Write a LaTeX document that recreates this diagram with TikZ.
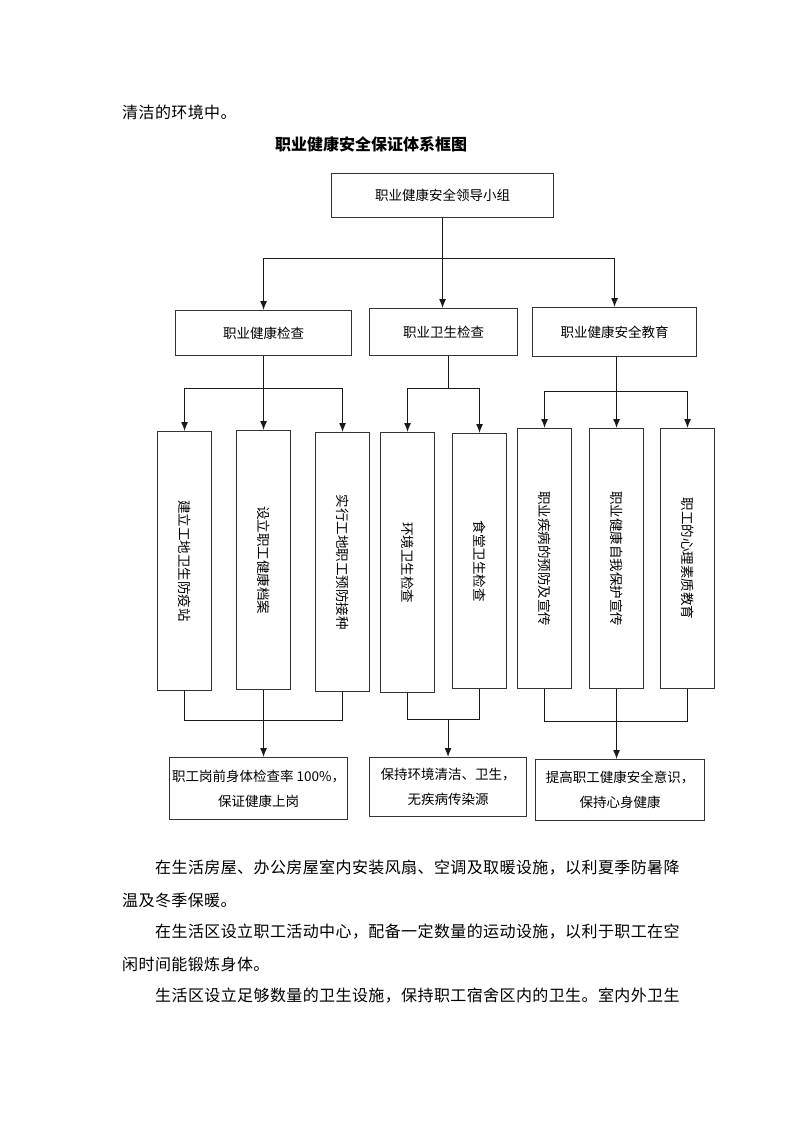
\documentclass[tikz,border=0pt]{standalone}
\usepackage{fontspec}
\setmainfont{Noto Sans CJK SC}
\newfontfamily\bodyfont[LetterSpace=2.5]{Noto Sans CJK SC}
\usetikzlibrary{arrows.meta}

\tikzset{
  box/.style={draw=black!80, line width=1.1pt, inner sep=0pt, anchor=north west,
    align=center, font=\fontsize{13.5}{25}\selectfont},
  tallbox/.style={box, minimum width=54pt},
  link/.style={line width=1pt, black!90},
  body/.style={anchor=west, inner sep=0pt, font=\bodyfont\fontsize{16}{16}\selectfont},
  >={Latex[length=9pt,width=7pt]}
}

\begin{document}
\begin{tikzpicture}[x=1pt,y=-1pt]
  \useasboundingbox (0,0) rectangle (800,1132);

  \node[body] (intro) at (122,112) {清洁的环境中。};
  \node[font=\fontsize{16}{16}\selectfont\bfseries] (title) at (371,144) {职业健康安全保证体系框图};

  \node[box, minimum width=222pt, minimum height=44pt] (lead) at (331,173) {职业健康安全领导小组};

  \node[box, minimum width=176pt, minimum height=45pt] (chk) at (175,310) {职业健康检查};
  \node[box, minimum width=148pt, minimum height=47pt] (hyg) at (369,308) {职业卫生检查};
  \node[box, minimum width=164pt, minimum height=49pt] (edu) at (532,307) {职业健康安全教育};

  \node[tallbox, minimum height=259pt] (a1) at (157,431) {\rotatebox{-90}{建立工地卫生防疫站}};
  \node[tallbox, minimum height=259pt] (a2) at (236,430) {\rotatebox{-90}{设立职工健康档案}};
  \node[tallbox, minimum height=259pt] (a3) at (315,432) {\rotatebox{-90}{实行工地职工预防接种}};
  \node[tallbox, minimum height=260pt] (b1) at (380,432) {\rotatebox{-90}{环境卫生检查}};
  \node[tallbox, minimum height=255pt] (b2) at (452,433) {\rotatebox{-90}{食堂卫生检查}};
  \node[tallbox, minimum height=260pt] (c1) at (517,428) {\rotatebox{-90}{职业疾病的预防及宣传}};
  \node[tallbox, minimum height=260pt] (c2) at (589,428) {\rotatebox{-90}{职业健康自我保护宣传}};
  \node[tallbox, minimum height=260pt] (c3) at (660,428) {\rotatebox{-90}{职工的心理素质教育}};

  \node[box, minimum width=178pt, minimum height=62pt] (ra) at (169,757) {职工岗前身体检查率 100\%，\\保证健康上岗};
  \node[box, minimum width=157pt, minimum height=59pt] (rb) at (369,757) {保持环境清洁、卫生，\\无疾病传染源};
  \node[box, minimum width=169pt, minimum height=61pt] (rc) at (535,759) {提高职工健康安全意识，\\保持心身健康};

  % top level
  \draw[link] (lead.south) -- ++(0,40) coordinate (tbus);
  \draw[link] (chk.north |- tbus) -- (edu.north |- tbus);
  \draw[link,->] (chk.north |- tbus) -- (chk.north);
  \draw[link,->] (tbus) -- (tbus |- hyg.north);
  \draw[link,->] (edu.north |- tbus) -- (edu.north);

  % second level
  \draw[link] (chk.south) -- ++(0,32) coordinate (abus);
  \draw[link] (a1.north |- abus) -- (a3.north |- abus);
  \foreach \n in {a1,a2,a3}
    \draw[link,->] (\n.north |- abus) -- (\n.north);
  \draw[link] (hyg.south -| rb.north) -- ++(0,32) coordinate (bbus);
  \draw[link] (b1.north |- bbus) -- (b2.north |- bbus);
  \foreach \n in {b1,b2}
    \draw[link,->] (\n.north |- bbus) -- (\n.north);
  \draw[link] (edu.south -| c2.north) -- ++(0,34) coordinate (cbus);
  \draw[link] (c1.north |- cbus) -- (c3.north |- cbus);
  \foreach \n in {c1,c2,c3}
    \draw[link,->] (\n.north |- cbus) -- (\n.north);

  % results
  \draw[link] (a1.south) -- ++(0,29) -| (a3.south);
  \draw[link,->] (a2.south) -- (a2.south |- ra.north);
  \draw[link] (b1.south) -- ++(0,26) coordinate (bjoin) -| (b2.south);
  \draw[link,->] (bjoin -| rb.north) -- (rb.north);
  \draw[link] (c1.south) -- ++(0,32) -| (c3.south);
  \draw[link,->] (c2.south) -- (c2.south |- rc.north);

  \node[body] (p1) at (155,868) {在生活房屋、办公房屋室内安装风扇、空调及取暖设施，以利夏季防暑降};
  \node[body] (p2) at (122,900) {温及冬季保暖。};
  \node[body] (p3) at (155,932) {在生活区设立职工活动中心，配备一定数量的运动设施，以利于职工在空};
  \node[body] (p4) at (122,964) {闲时间能锻炼身体。};
  \node[body] (p5) at (155,996) {生活区设立足够数量的卫生设施，保持职工宿舍区内的卫生。室内外卫生};
\end{tikzpicture}
\end{document}
